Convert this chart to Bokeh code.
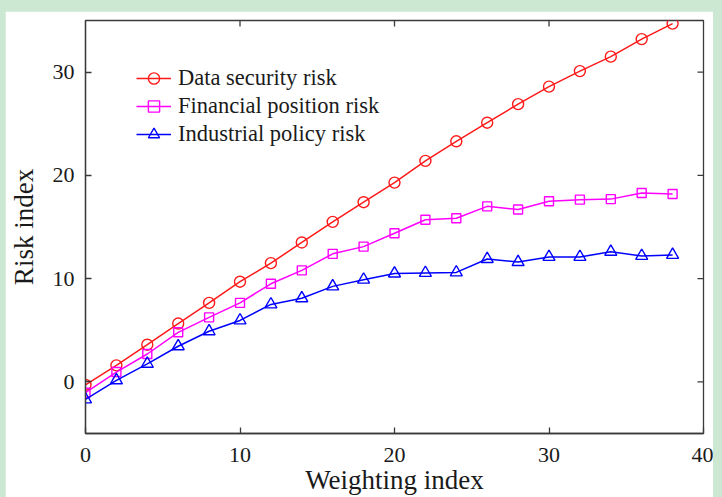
import math
from bokeh.plotting import figure
from bokeh.models import FixedTicker, Range1d, Legend, LegendItem, Spacer
from bokeh.layouts import column, row
from bokeh.embed import file_html
from bokeh.resources import INLINE

weighting = [0, 2, 4, 6, 8, 10, 12, 14, 16, 18, 20, 22, 24, 26, 28, 30, 32, 34, 36, 38]
data_security = [-0.3, 1.6, 3.6, 5.65, 7.65, 9.7, 11.5, 13.5, 15.5, 17.4, 19.3, 21.4, 23.3, 25.1, 26.9, 28.6, 30.1, 31.5, 33.2, 34.7]
financial_position = [-1.05, 0.95, 2.7, 4.8, 6.25, 7.65, 9.5, 10.8, 12.4, 13.1, 14.4, 15.7, 15.85, 17.0, 16.7, 17.5, 17.65, 17.7, 18.3, 18.2]
industrial_policy = [-1.7, 0.15, 1.75, 3.45, 4.9, 5.95, 7.5, 8.1, 9.25, 9.9, 10.5, 10.55, 10.6, 11.9, 11.6, 12.1, 12.1, 12.6, 12.2, 12.3]
series_names = ["Data security risk", "Financial position risk", "Industrial policy risk"]
x_ticks = [0, 10, 20, 30, 40]
y_ticks = [0, 10, 20, 30]
x_min, x_max = 0, 40
y_min, y_max = -5, 35

FONT = "Liberation Serif"
AXIS_COLOR = "#3a3a3a"
TEXT_COLOR = "#1a1a1a"
PAGE_GREEN = "#cce8d2"

p = figure(width=708, height=486, output_backend="svg", toolbar_location=None,
           x_range=Range1d(x_min, x_max), y_range=Range1d(y_min, y_max),
           min_border_left=79, min_border_right=10, min_border_top=9, min_border_bottom=64,
           background_fill_color="white", border_fill_color="white")
p.grid.visible = False
p.outline_line_color = AXIS_COLOR
p.outline_line_width = 1.3

for ax, ticks in ((p.xaxis[0], x_ticks), (p.yaxis[0], y_ticks)):
    ax.ticker = FixedTicker(ticks=ticks)
    ax.axis_line_color = AXIS_COLOR
    ax.axis_line_width = 1.3
    ax.major_tick_line_color = AXIS_COLOR
    ax.major_tick_line_width = 1.3
    ax.major_tick_in = 6
    ax.major_tick_out = 0
    ax.minor_tick_line_color = None
    ax.major_label_text_font = FONT
    ax.major_label_text_color = TEXT_COLOR
    ax.major_label_text_font_size = "22px"
    ax.axis_label_text_font = FONT
    ax.axis_label_text_font_style = "normal"
    ax.axis_label_text_color = TEXT_COLOR
    ax.axis_label_text_font_size = "27px"

xa = p.xaxis[0]
ya = p.yaxis[0]
xa.axis_label = "Weighting index"
ya.axis_label = "Risk index"
xa.major_label_standoff = 14
xa.axis_label_standoff = 0
ya.major_label_standoff = 11
ya.axis_label_standoff = 11

# mirrored tick marks on the top and right edges of the frame (half clipped by the frame)
top_ticks = [t for t in x_ticks if x_min < t < x_max]
p.scatter(top_ticks, [y_max] * len(top_ticks), marker="dash", angle=math.pi / 2,
          size=12, line_color=AXIS_COLOR, line_width=1.3)
p.scatter([x_max] * len(y_ticks), y_ticks, marker="dash",
          size=12, line_color=AXIS_COLOR, line_width=1.3)

specs = [
    (data_security, "#ff1a1a", "circle", 11),
    (financial_position, "#ff00ff", "square", 9),
    (industrial_policy, "#0000ff", "triangle", 12),
]
items = []
for name, (vals, color, marker, size) in zip(series_names, specs):
    ln = p.line(weighting, vals, line_color=color, line_width=1.5)
    sc = p.scatter(weighting, vals, marker=marker, size=size, line_color=color,
                   fill_color=None, line_width=1.4)
    items.append(LegendItem(label=name, renderers=[ln, sc]))

legend = Legend(items=items, location=(51, 285))
legend.background_fill_alpha = 0
legend.border_line_color = None
legend.padding = 0
legend.margin = 0
legend.spacing = 0
legend.glyph_width = 35
legend.glyph_height = 28
legend.label_height = 28
legend.label_standoff = 7
legend.label_text_font = FONT
legend.label_text_font_size = "22.5px"
legend.label_text_color = TEXT_COLOR
p.add_layout(legend, "center")

layout = column(
    Spacer(width=722, height=11),
    row(Spacer(width=5, height=486), p, Spacer(width=9, height=486)),
    styles={"background-color": PAGE_GREEN},
)

open("out.html", "w").write(file_html(layout, INLINE))
